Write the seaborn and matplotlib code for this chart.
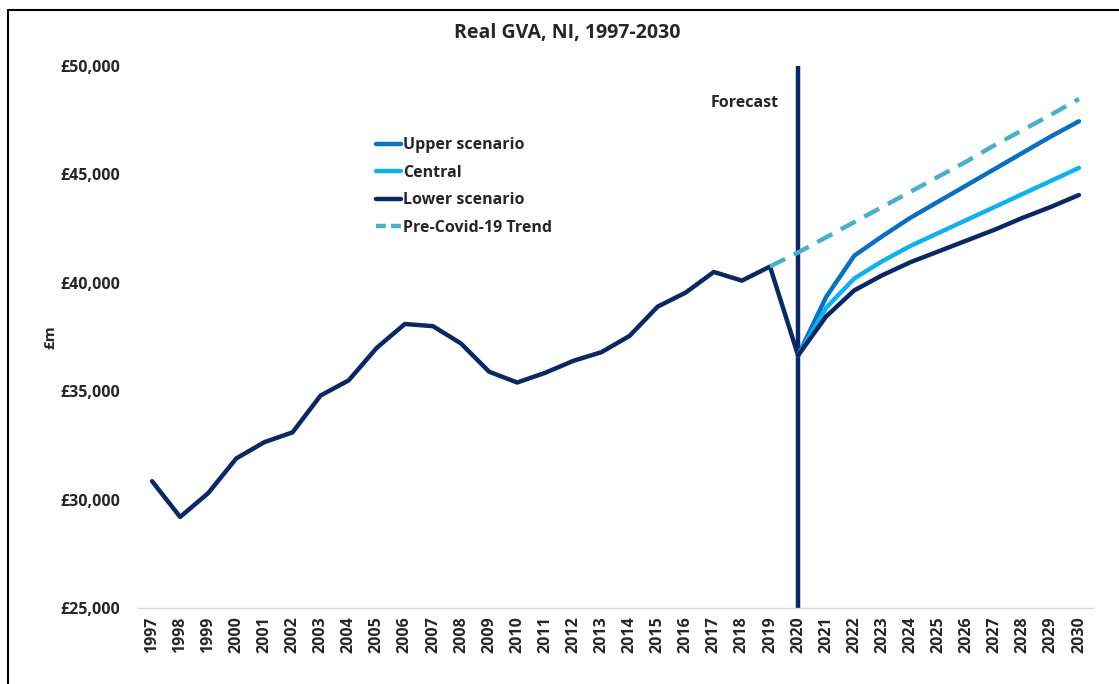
import numpy as np
import pandas as pd
import seaborn as sns
import matplotlib.pyplot as plt
from matplotlib.lines import Line2D
from matplotlib.ticker import FuncFormatter

# data (real GVA, £m)
hist_years = list(range(1997, 2021))
hist_gva = [30850, 29200, 30300, 31900, 32650, 33100, 34800, 35500, 37000, 38100,
            38000, 37200, 35900, 35400, 35850, 36400, 36800, 37550, 38900, 39550,
            40500, 40100, 40750, 36650]

fc_years = list(range(2020, 2031))
upper = [36650, 39350, 41250, 42150, 43000, 43750, 44500, 45250, 46000, 46750, 47450]
central = [36650, 38850, 40200, 41000, 41700, 42300, 42900, 43500, 44100, 44700, 45300]
lower = [36650, 38450, 39650, 40350, 40950, 41450, 41950, 42450, 43000, 43500, 44050]

trend_years = list(range(2019, 2031))
trend = [40750, 41400, 42100, 42800, 43500, 44200, 44900, 45600, 46350, 47050, 47750, 48480]

NAVY = "#0B2862"
UPPER = "#0A6FBF"
CENTRAL = "#13B1EC"
TREND = "#4BAFC8"

sns.set_theme(style="white")
plt.rcParams['font.family'] = ['Open Sans', 'DejaVu Sans']

fig = plt.figure(figsize=(11.19, 6.84), dpi=100)
ax = fig.add_axes([138 / 1119, 1 - 608 / 684, (1093 - 138) / 1119, (608 - 66) / 684])

hist = pd.DataFrame({"year": hist_years, "gva": hist_gva})
sns.lineplot(data=hist, x="year", y="gva", color=NAVY, lw=3.2, ax=ax)
sns.lineplot(x=trend_years, y=trend, color=TREND, lw=3.2, ax=ax, linestyle=(0, (3.8, 2.2)))
sns.lineplot(x=fc_years, y=upper, color=UPPER, lw=3.2, ax=ax)
sns.lineplot(x=fc_years, y=central, color=CENTRAL, lw=3.2, ax=ax)
sns.lineplot(x=fc_years, y=lower, color=NAVY, lw=3.2, ax=ax)

ax.axvline(2020, color=NAVY, lw=3.2, zorder=1)
ax.text(2019.3, 48300, "Forecast", ha="right", va="center", fontsize=11.5, fontweight="bold")

ax.set_xlim(1996.5, 2030.5)
ax.set_ylim(25000, 50000)
ax.set_yticks(range(25000, 50001, 5000))
ax.yaxis.set_major_formatter(FuncFormatter(lambda v, p: f"£{v:,.0f}"))
ax.set_xticks(range(1997, 2031))
ax.set_xticklabels([str(y) for y in range(1997, 2031)], rotation=90)
ax.tick_params(axis="x", labelsize=11.5, length=0, pad=6)
ax.tick_params(axis="y", labelsize=11.5, length=0, pad=13)
for lab in ax.get_xticklabels() + ax.get_yticklabels():
    lab.set_fontweight("bold")

ax.set_xlabel("")
ax.set_ylabel("£m", fontsize=11, fontweight="bold", labelpad=2)
for side in ["top", "right", "left"]:
    ax.spines[side].set_visible(False)
ax.spines["bottom"].set_color("#D9D9D9")
ax.spines["bottom"].set_linewidth(1)

fig.text(567 / 1119, 1 - 33 / 684, "Real GVA, NI, 1997-2030", ha="center", va="center",
         fontsize=14, fontweight="bold")

handles = [
    Line2D([], [], color=UPPER, lw=3.2),
    Line2D([], [], color=CENTRAL, lw=3.2),
    Line2D([], [], color=NAVY, lw=3.2),
    Line2D([], [], color=TREND, lw=3.2, linestyle=(0, (2.2, 1.2))),
]
labels = ["Upper scenario", "Central", "Lower scenario", "Pre-Covid-19 Trend"]
leg = ax.legend(handles, labels, loc="upper left", bbox_to_anchor=(0.234, 0.895), frameon=False,
                handlelength=1.6, handletextpad=0.1, labelspacing=0.72,
                prop={"weight": "bold", "size": 11.5})

# figure border (left and top edges visible in reference)
fig.add_artist(Line2D([8 / 1119, 8 / 1119], [0, 1 - 10 / 684], color="black", lw=1.5))
fig.add_artist(Line2D([8 / 1119, 1], [1 - 10 / 684, 1 - 10 / 684], color="black", lw=1.5))

fig.savefig("out.png", dpi=100)
